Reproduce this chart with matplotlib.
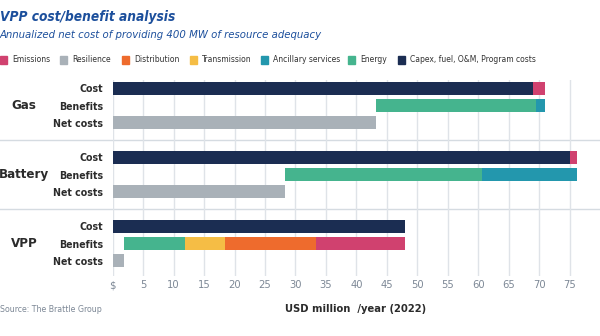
import matplotlib
matplotlib.use("Agg")
import numpy as np
from matplotlib import pyplot as plt
from matplotlib.patches import Rectangle

plt.rcParams['font.family'] = ['DejaVu Sans']
plt.rcParams['font.stretch'] = 'condensed'

resources = ["Gas", "Battery", "VPP"]
rows = ["Cost", "Benefits", "Net costs"]

# costs, USD million / year
capex = [69.0, 75.0, 48.0]
cost_emissions = [2.0, 1.3, 0.0]

# benefits, stacked left to right
benefit_names = ["Energy", "Ancillary services", "Transmission", "Distribution", "Emissions"]
energy = [26.2, 32.3, 10.0]
ancillary = [1.5, 15.7, 0.0]
transmission = [0.0, 0.0, 6.6]
distribution = [0.0, 0.0, 14.8]
emissions = [0.0, 0.0, 14.7]

legend_names = ["Emissions", "Resilience", "Distribution", "Transmission",
                "Ancillary services", "Energy", "Capex, fuel, O&M, Program costs"]
xticks = list(range(0, 80, 5))
xticklabels = ["$"] + [str(t) for t in xticks[1:]]

colors = {
    "Emissions": "#d0416f",
    "Resilience": "#a9b1b8",
    "Distribution": "#ee6b2d",
    "Transmission": "#f5bd45",
    "Ancillary services": "#2397ad",
    "Energy": "#45b48e",
    "Capex, fuel, O&M, Program costs": "#1b2d52",
}

benefits = [energy, ancillary, transmission, distribution, emissions]
total_cost = np.array(capex) + np.array(cost_emissions)
total_benefit = np.sum(benefits, axis=0)
net = total_cost - total_benefit

fig = plt.figure(figsize=(6, 3.36), dpi=100)
ax = fig.add_axes([112.7 / 600, 1 - 276 / 336, 487.3 / 600, 196 / 336])

h = 0.75
for i, r in enumerate(resources):
    y0 = i * 4
    ax.barh(y0, capex[i], height=h, color=colors["Capex, fuel, O&M, Program costs"], zorder=3)
    ax.barh(y0, cost_emissions[i], left=capex[i], height=h, color=colors["Emissions"], zorder=3)
    left = net[i]
    for name, vals in zip(benefit_names, benefits):
        ax.barh(y0 + 1, vals[i], left=left, height=h, color=colors[name], zorder=3)
        left += vals[i]
    ax.barh(y0 + 2, net[i], height=h, color=colors["Resilience"], zorder=3)

ax.set_xlim(0, 80)
ax.set_ylim(10.88, -0.48)
ax.set_xticks(xticks)
ax.set_xticklabels(xticklabels)
ax.tick_params(axis='x', length=0, pad=3, labelsize=8, labelcolor="#7d8896")
ax.grid(axis='x', color="#dfe3e8", lw=1, zorder=0)

yt = [i * 4 + j for i in range(3) for j in range(3)]
ax.set_yticks(yt)
ax.set_yticklabels(rows * 3, fontweight='bold', fontsize=7.6, color="#2b2b2b")
ax.tick_params(axis='y', length=0, pad=7)
for s in ax.spines.values():
    s.set_visible(False)

for yy in [3, 7]:
    ax.axhline(yy, xmin=-0.232, xmax=1.0, color="#d5dbe1", lw=1, clip_on=False, zorder=1)

for i, r in enumerate(resources):
    ax.text(24 / 600, i * 4 + 1, r, transform=ax.get_yaxis_transform().__class__(fig.transFigure, ax.transData),
            ha='center', va='center', fontsize=9.5, fontweight='bold', color="#2b2b2b")

fig.text(0.0, 1 - 17 / 336, "VPP cost/benefit analysis", fontsize=9.8, fontweight='bold',
         style='italic', color="#1c4f9c", va='center')
fig.text(0.0, 1 - 35 / 336, "Annualized net cost of providing 400 MW of resource adequacy",
         fontsize=8.1, style='italic', color="#1c4f9c", va='center')

leg_x = [0, 60, 122, 190, 261, 348, 398]
for x, name in zip(leg_x, legend_names):
    fig.patches.append(Rectangle((x / 600, 1 - 64 / 336), 7 / 600, 8 / 336,
                                 transform=fig.transFigure, color=colors[name]))
    fig.text((x + 12) / 600, 1 - 60 / 336, name, fontsize=6.1, color="#333333", va='center')

fig.text(0.0, 1 - 309 / 336, "Source: The Brattle Group", fontsize=6.3, color="#7d8896", va='center')
fig.text(356 / 600, 1 - 309 / 336, "USD million  /year (2022)", fontsize=8, fontweight='bold',
         color="#2b2b2b", va='center', ha='center')

fig.savefig("out.png", dpi=100)
